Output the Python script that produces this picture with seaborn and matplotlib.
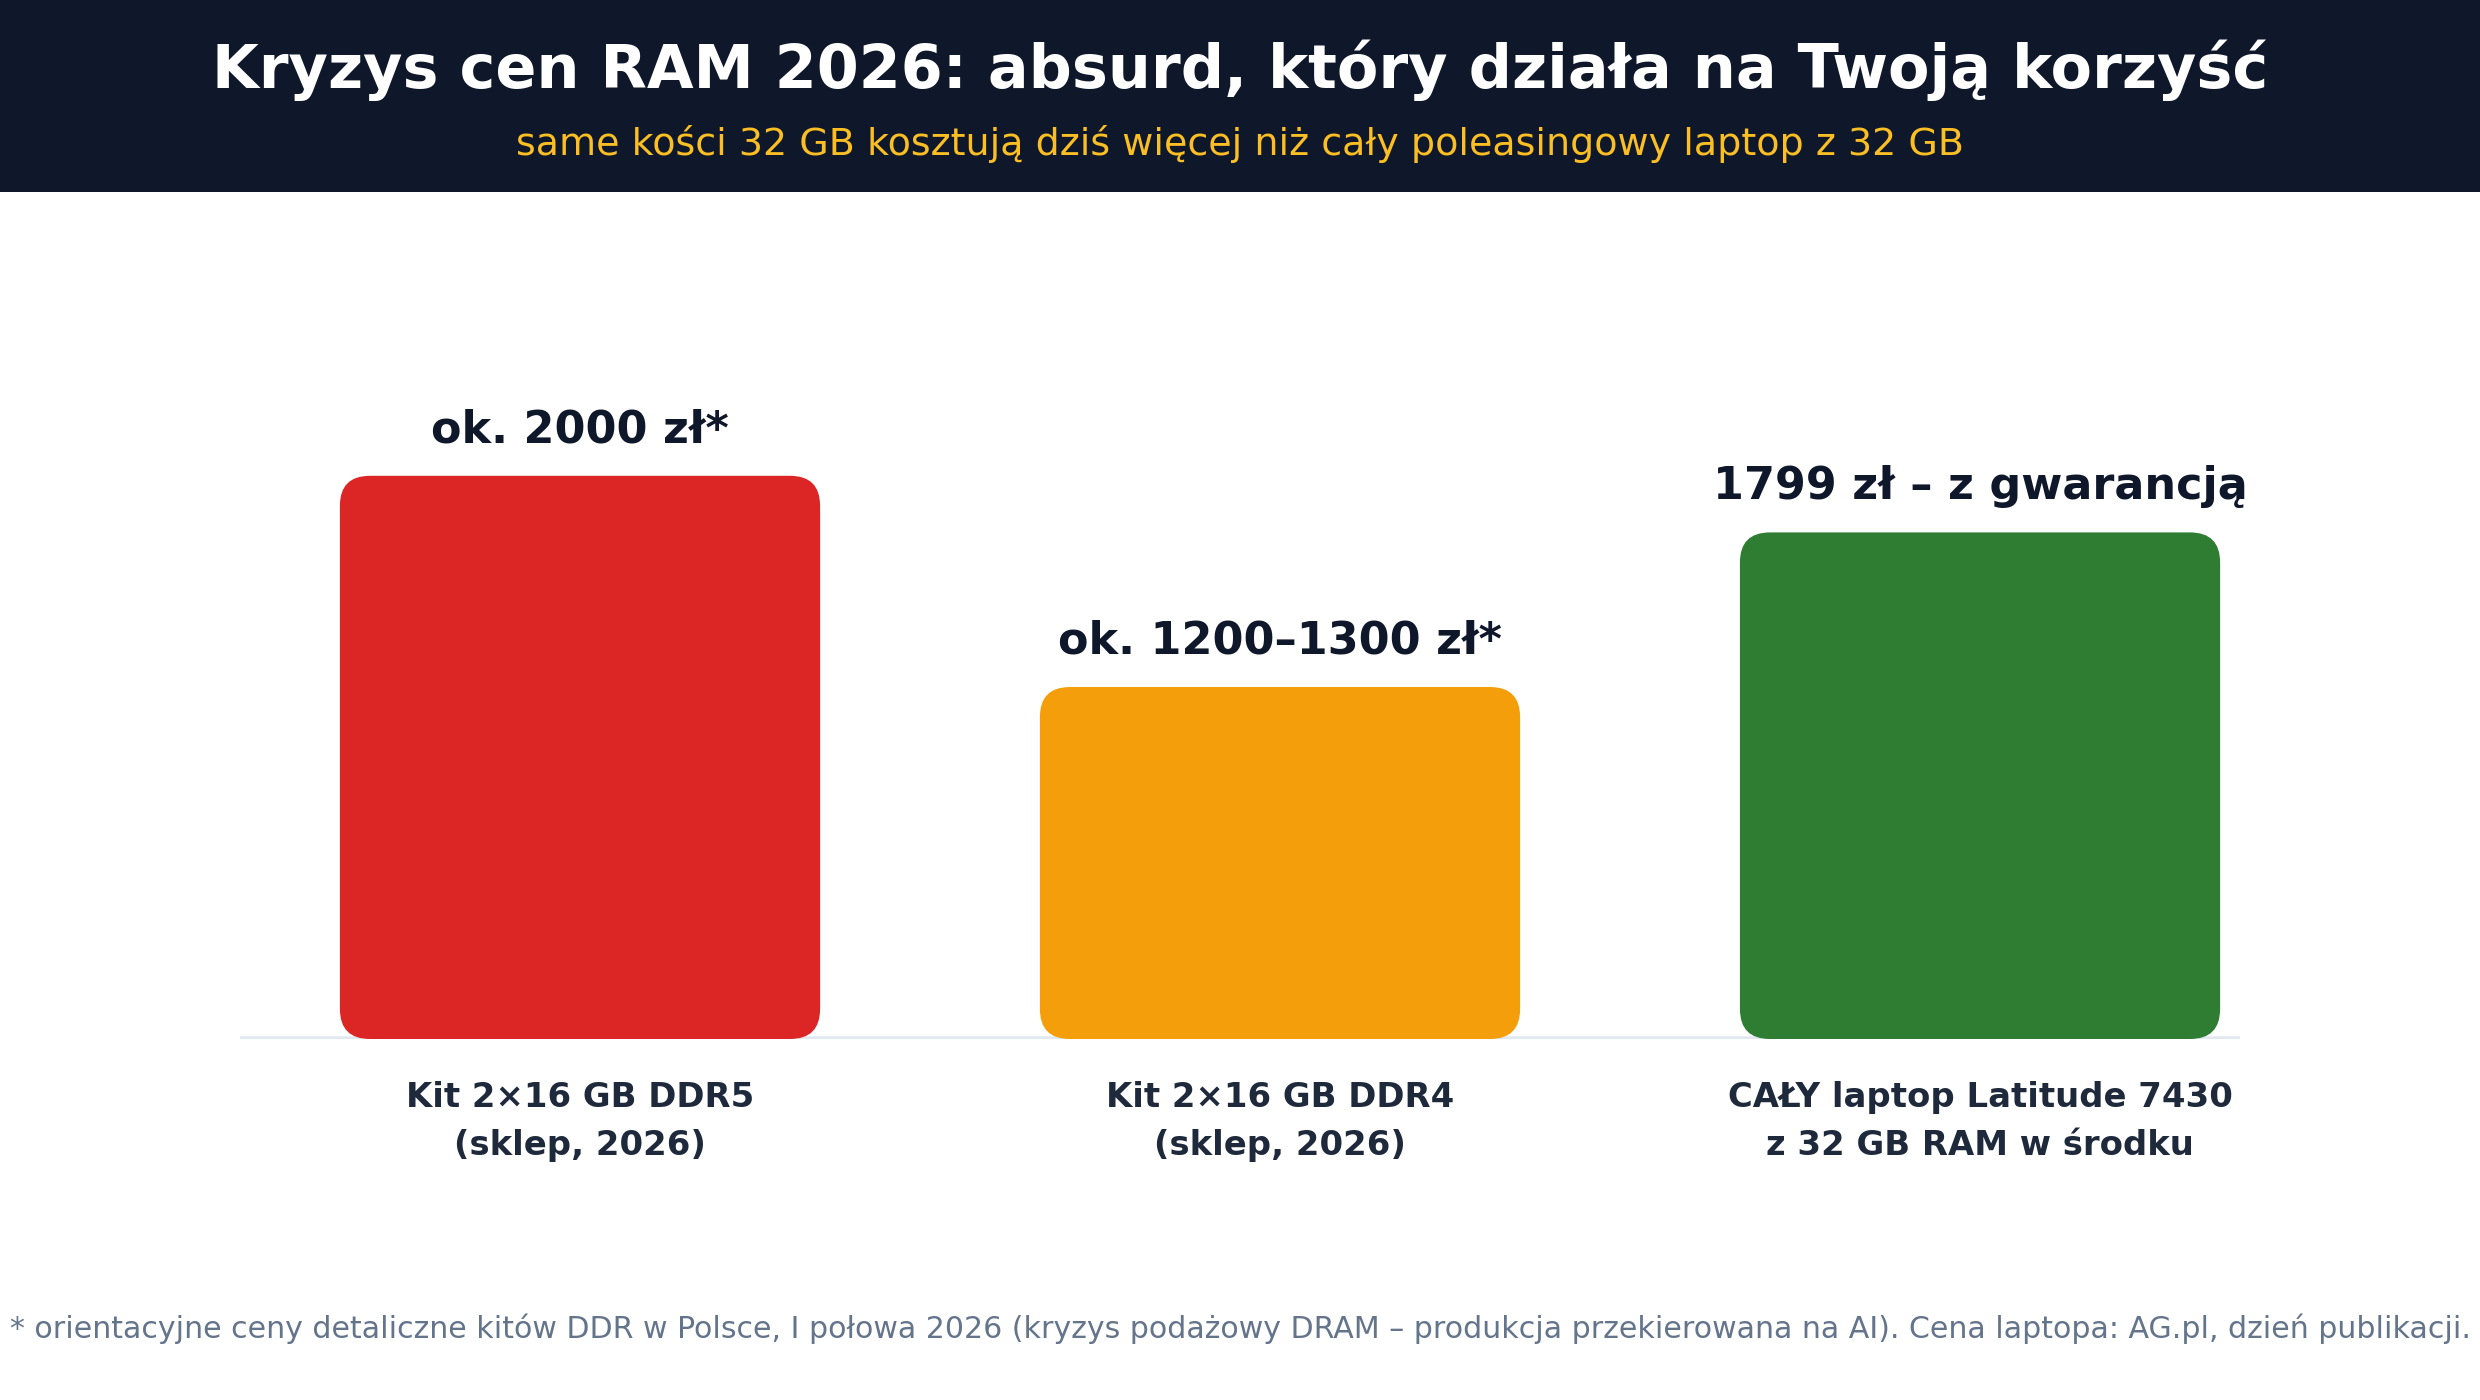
import matplotlib.pyplot as plt
import seaborn as sns
import pandas as pd
from matplotlib.patches import FancyBboxPatch, Rectangle

sns.set_style("white")
plt.rcParams['font.family'] = ['DejaVu Sans']

categories = ["Kit 2×16 GB DDR5\n(sklep, 2026)",
              "Kit 2×16 GB DDR4\n(sklep, 2026)",
              "CAŁY laptop Latitude 7430\nz 32 GB RAM w środku"]
prices = [2000, 1250, 1799]
value_labels = ["ok. 2000 zł*", "ok. 1200–1300 zł*", "1799 zł – z gwarancją"]
colors = ["#dc2626", "#f59e0b", "#2e7d32"]

title = "Kryzys cen RAM 2026: absurd, który działa na Twoją korzyść"
subtitle = "same kości 32 GB kosztują dziś więcej niż cały poleasingowy laptop z 32 GB"
footnote = ("* orientacyjne ceny detaliczne kitów DDR w Polsce, I połowa 2026 "
            "(kryzys podażowy DRAM – produkcja przekierowana na AI). "
            "Cena laptopa: AG.pl, dzień publikacji.")

df = pd.DataFrame({"cat": categories, "price": prices})

fig = plt.figure(figsize=(12.4, 7), dpi=200)
fig.patch.set_facecolor("white")

# dark header band
fig.patches.append(Rectangle((0, 0.863), 1, 0.137, transform=fig.transFigure,
                             facecolor="#0f172a", edgecolor="none", zorder=0))
fig.text(0.5, 0.950, title, ha="center", va="center", color="white",
         fontsize=21.75, fontweight="bold")
fig.text(0.5, 0.897, subtitle, ha="center", va="center", color="#fbbf24",
         fontsize=13.7)

ax = fig.add_axes([240 / 2480, 1 - 1039 / 1400, 2000 / 2480, 704 / 1400])
sns.barplot(data=df, x="cat", y="price", hue="cat", palette=colors,
            dodge=False, legend=False, width=0.686, saturation=1, ax=ax)

ax.set_xlim(-0.4857, 2.3714)
ax.set_ylim(0, 2500)

# swap flat bars for rounded ones
for p in list(ax.patches):
    x, y, w, h = p.get_x(), p.get_y(), p.get_width(), p.get_height()
    fc = p.get_facecolor()
    p.remove()
    ax.add_patch(FancyBboxPatch((x, y), w, h,
                                boxstyle="round,pad=0,rounding_size=0.043",
                                mutation_aspect=2480, facecolor=fc,
                                edgecolor="none", zorder=3))
    ax.annotate(value_labels[len(ax.texts)], (x + w / 2, y + h),
                xytext=(0, 12), textcoords="offset points",
                ha="center", va="baseline", fontsize=16, fontweight="bold",
                color="#0f172a")

ax.axhline(0, color="#e2e8f0", lw=2, zorder=1)
sns.despine(ax=ax, left=True, bottom=True)
ax.set_yticks([])
ax.set_xlabel("")
ax.set_ylabel("")
ax.tick_params(axis="x", length=0, pad=15)
for lab in ax.get_xticklabels():
    lab.set_fontweight("bold")
    lab.set_fontsize(12.2)
    lab.set_color("#1e293b")
    lab.set_linespacing(1.58)

fig.text(0.5, 1 - 1329 / 1400, footnote, ha="center", va="center",
         color="#64748b", fontsize=10.8)

fig.savefig("out.png", dpi=200)
